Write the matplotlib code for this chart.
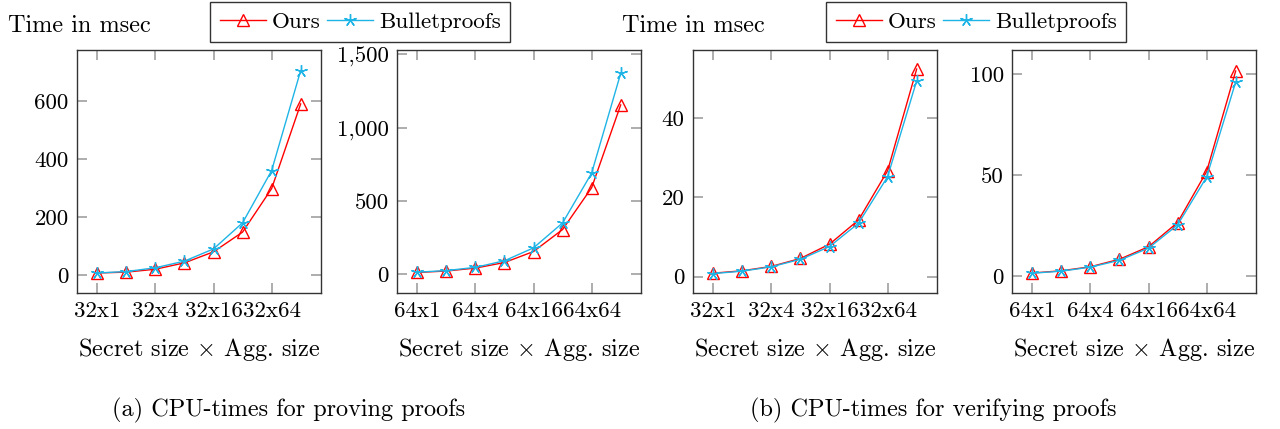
import matplotlib.pyplot as plt
from matplotlib.ticker import FuncFormatter

# data (msec), 8 aggregation sizes: 1,2,4,...,128
agg_pos = [0, 1, 2, 3, 4, 5, 6, 7]

prove32_ours = [7, 10, 20, 42, 80, 148, 298, 590]
prove32_bp = [7, 12, 25, 48, 90, 180, 360, 705]
prove64_ours = [12, 22, 42, 80, 155, 305, 590, 1155]
prove64_bp = [14, 25, 47, 92, 180, 350, 690, 1370]
verify32_ours = [0.9, 1.5, 2.6, 4.6, 8.2, 14.3, 26.7, 52.3]
verify32_bp = [0.8, 1.4, 2.5, 4.4, 7.6, 13.5, 25.2, 49.3]
verify64_ours = [1.5, 2.6, 4.6, 8.3, 14.5, 26.5, 51.7, 101.5]
verify64_bp = [1.4, 2.4, 4.4, 7.8, 13.8, 25.3, 49.0, 96.0]

xticks32 = ["32x1", "32x4", "32x16", "32x64"]
xticks64 = ["64x1", "64x4", "64x16", "64x64"]

panels = [
    (prove32_ours, prove32_bp, xticks32, [0, 200, 400, 600], (-62, 776)),
    (prove64_ours, prove64_bp, xticks64, [0, 500, 1000, 1500], (-128, 1530)),
    (verify32_ours, verify32_bp, xticks32, [0, 20, 40], (-4.1, 57.1)),
    (verify64_ours, verify64_bp, xticks64, [0, 50, 100], (-8.4, 111.9)),
]

red = "#ff0000"
cyan = "#1fb4e6"
fs = 17.5      # labels / captions
tfs = 16.5     # tick labels
lfs = 16.6     # legend

plt.rcParams.update({
    "font.family": ["cmr10", "DejaVu Serif"],
    "mathtext.fontset": "cm",
    "axes.unicode_minus": False,
    "font.size": fs,
})

W, H = 1280, 429
fig = plt.figure(figsize=(W / 100, H / 100), dpi=100)

lefts = [77, 397, 693, 1012]
fmt = FuncFormatter(lambda v, p: f"{int(v):,}")

for left, (ours, bp, xt, yt, ylim) in zip(lefts, panels):
    ax = fig.add_axes([left / W, (429 - 293) / H, 244 / W, 243 / H])
    ax.plot(agg_pos, bp, color=cyan, linewidth=1.0, marker=(5, 2, 0),
            markersize=9, markeredgewidth=1.0, label="Bulletproofs", zorder=3)
    ax.plot(agg_pos, ours, color=red, linewidth=1.0, marker="^",
            markersize=8, markerfacecolor="none", markeredgewidth=1.0,
            label="Ours", zorder=2)
    ax.set_xlim(-0.7, 7.7)
    ax.set_ylim(*ylim)
    ax.set_xticks([0, 2, 4, 6])
    ax.set_xticklabels(xt)
    ax.set_yticks(yt)
    ax.yaxis.set_major_formatter(fmt)
    ax.tick_params(direction="in", top=True, right=True, length=7,
                   width=1.2, color="#a0a0a0", labelsize=tfs, pad=6)
    for s in ax.spines.values():
        s.set_color("#333333")
        s.set_linewidth(1.0)
    ax.set_xlabel(r"Secret size $\times$ Agg. size", fontsize=fs, labelpad=11)

# shared legends and y labels
h_ours = plt.Line2D([], [], color=red, linewidth=1.0, marker="^", markersize=8,
                    markerfacecolor="none", markeredgewidth=1.0)
h_bp = plt.Line2D([], [], color=cyan, linewidth=1.0, marker=(5, 2, 0),
                  markersize=9, markeredgewidth=1.0)
for lx in [210, 826]:
    leg = fig.legend([h_ours, h_bp], ["Ours", "Bulletproofs"], ncol=2,
                     loc="upper left", bbox_to_anchor=(lx / W, 1 - 2 / H),
                     fancybox=False, framealpha=1, edgecolor="#333333",
                     fontsize=lfs, handlelength=2.0, columnspacing=0.25,
                     handletextpad=0.27, borderpad=0.42, borderaxespad=0)
    leg.get_frame().set_linewidth(1.0)

fig.text(8 / W, 1 - 26 / H, "Time in msec", ha="left", va="center", fontsize=fs)
fig.text(622 / W, 1 - 26 / H, "Time in msec", ha="left", va="center", fontsize=fs)

fig.text(112 / W, 1 - 410 / H, "(a) CPU-times for proving proofs",
         ha="left", va="center", fontsize=fs)
fig.text(750 / W, 1 - 410 / H, "(b) CPU-times for verifying proofs",
         ha="left", va="center", fontsize=fs)

fig.savefig("out.png", dpi=100)
